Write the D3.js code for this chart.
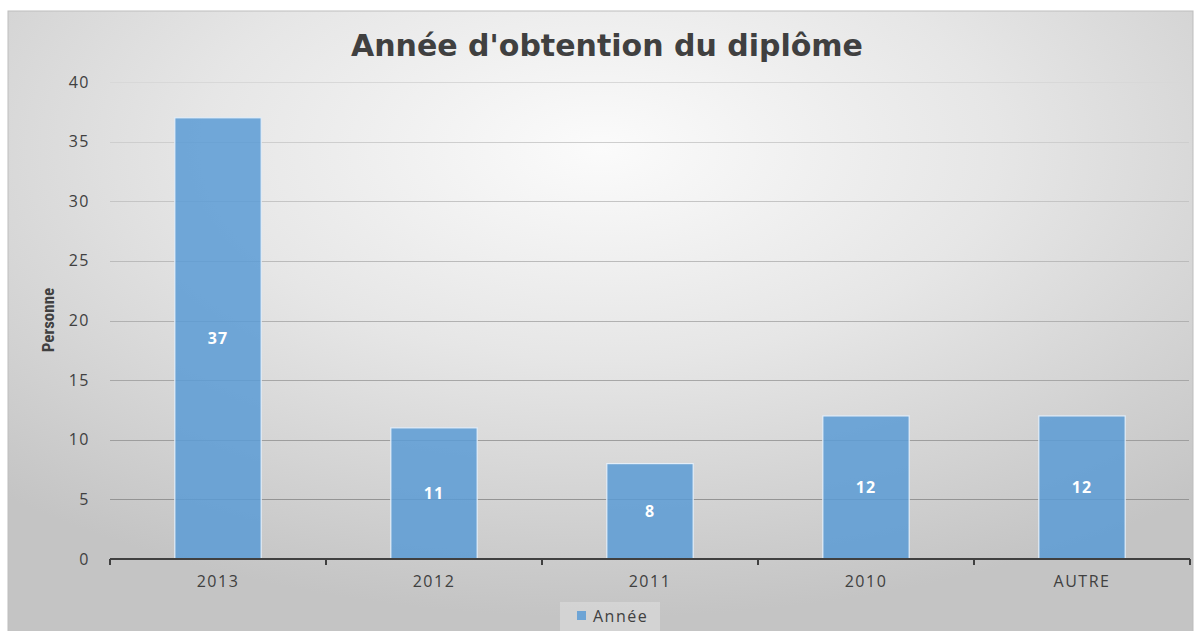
<!DOCTYPE html>
<html><head><meta charset="utf-8">
<script src="https://cdn.jsdelivr.net/npm/d3@7"></script>
<style>html,body{margin:0;padding:0;background:#fff;}svg{display:block;}</style>
</head><body>
<svg id="c" width="1202" height="631"></svg>
<script>
const categories = ["2013", "2012", "2011", "2010", "AUTRE"];
const values = [37, 11, 8, 12, 12];
const yTicks = [0, 5, 10, 15, 20, 25, 30, 35, 40];
const seriesName = "Année";
const title = "Année d'obtention du diplôme";
const yTitle = "Personne";

const svg = d3.select("#c");
const defs = svg.append("defs");
const rg = defs.append("radialGradient").attr("id","bg")
  .attr("cx","50%").attr("cy","22%").attr("r","75%").attr("fx","50%").attr("fy","22%");
rg.append("stop").attr("offset","0%").attr("stop-color","#fbfbfb");
rg.append("stop").attr("offset","45%").attr("stop-color","#e6e6e6");
rg.append("stop").attr("offset","100%").attr("stop-color","#c4c4c4");

svg.append("rect").attr("x",8).attr("y",11).attr("width",1185).attr("height",625)
  .attr("fill","url(#bg)").attr("stroke","#bdbdbd").attr("stroke-width",1);

const m = {left:110, right:1190, top:82, bottom:559};
const x = d3.scaleBand().domain(categories).range([m.left, m.right]).paddingInner(0.6).paddingOuter(0.3);
const xb = d3.scaleBand().domain(categories).range([m.left, m.right]);
const y = d3.scaleLinear().domain([0,40]).range([m.bottom, m.top]);

const gc = d3.scaleLinear().domain([m.top, m.bottom]).range(["#d8d8d8", "#8a8a8a"]);
svg.append("g").selectAll("line").data(yTicks.filter(d=>d>0)).join("line")
  .attr("x1",m.left).attr("x2",m.right-1)
  .attr("y1",d=>Math.round(y(d))+0.5).attr("y2",d=>Math.round(y(d))+0.5)
  .attr("stroke",d=>gc(y(d))).attr("stroke-width",1);

svg.append("g").selectAll("text").data(yTicks).join("text")
  .attr("x",90).attr("y",d=>y(d)).attr("dy","0.35em").attr("text-anchor","end")
  .attr("font-family","'Open Sans', sans-serif").attr("font-size",16).attr("letter-spacing","1.5px")
  .attr("fill","#404040").text(d=>d);

svg.append("g").selectAll("rect").data(values).join("rect")
  .attr("x",(d,i)=>x(categories[i])).attr("width",x.bandwidth())
  .attr("y",d=>y(d)).attr("height",d=>y(0)-y(d))
  .attr("fill","#5b9bd5").attr("fill-opacity",0.85)
  .attr("stroke","#e4eef8").attr("stroke-width",1.2);

svg.append("g").selectAll("text").data(values).join("text")
  .attr("x",(d,i)=>x(categories[i])+x.bandwidth()/2)
  .attr("y",d=>(y(d)+y(0))/2).attr("dy","0.35em").attr("text-anchor","middle")
  .attr("font-family","'Open Sans', sans-serif").attr("font-weight","bold").attr("font-size",16)
  .attr("letter-spacing","1px").attr("fill","#ffffff").text(d=>d);

// x axis
const ax = svg.append("g").attr("stroke","#404040").attr("stroke-width",2);
ax.append("line").attr("x1",m.left).attr("x2",m.right).attr("y1",m.bottom).attr("y2",m.bottom);
const tickPos = categories.map(c=>xb(c)).concat([m.right]);
ax.selectAll("line.t").data(tickPos).join("line").attr("class","t")
  .attr("x1",d=>d).attr("x2",d=>d).attr("y1",m.bottom).attr("y2",m.bottom+6);

svg.append("g").selectAll("text").data(categories).join("text")
  .attr("x",d=>xb(d)+xb.bandwidth()/2).attr("y",587)
  .attr("text-anchor","middle").attr("font-family","'Open Sans', sans-serif")
  .attr("font-size",16).attr("letter-spacing","1.5px").attr("fill","#404040").text(d=>d);

svg.append("text").attr("x",607).attr("y",56).attr("text-anchor","middle")
  .attr("font-family","'DejaVu Sans', sans-serif").attr("font-weight","bold")
  .attr("font-size",30).attr("fill","#404040").text(title);

svg.append("text").attr("transform","translate(54,320) rotate(-90)").attr("text-anchor","middle")
  .attr("font-family","'Liberation Sans Narrow', 'Roboto Condensed', sans-serif").attr("font-weight","bold")
  .attr("font-size",17).attr("fill","#404040").text(yTitle);

// legend
const lg = svg.append("g");
lg.append("rect").attr("x",560).attr("y",602).attr("width",100).attr("height",29).attr("fill","#ffffff").attr("fill-opacity",0.25);
lg.append("rect").attr("x",577).attr("y",611).attr("width",9).attr("height",9).attr("fill","#5b9bd5").attr("fill-opacity",0.85);
lg.append("text").attr("x",593).attr("y",616).attr("dy","0.35em")
  .attr("font-family","'Open Sans', sans-serif").attr("font-size",16).attr("letter-spacing","1.5px")
  .attr("fill","#404040").text(seriesName);
</script>
</body></html>
